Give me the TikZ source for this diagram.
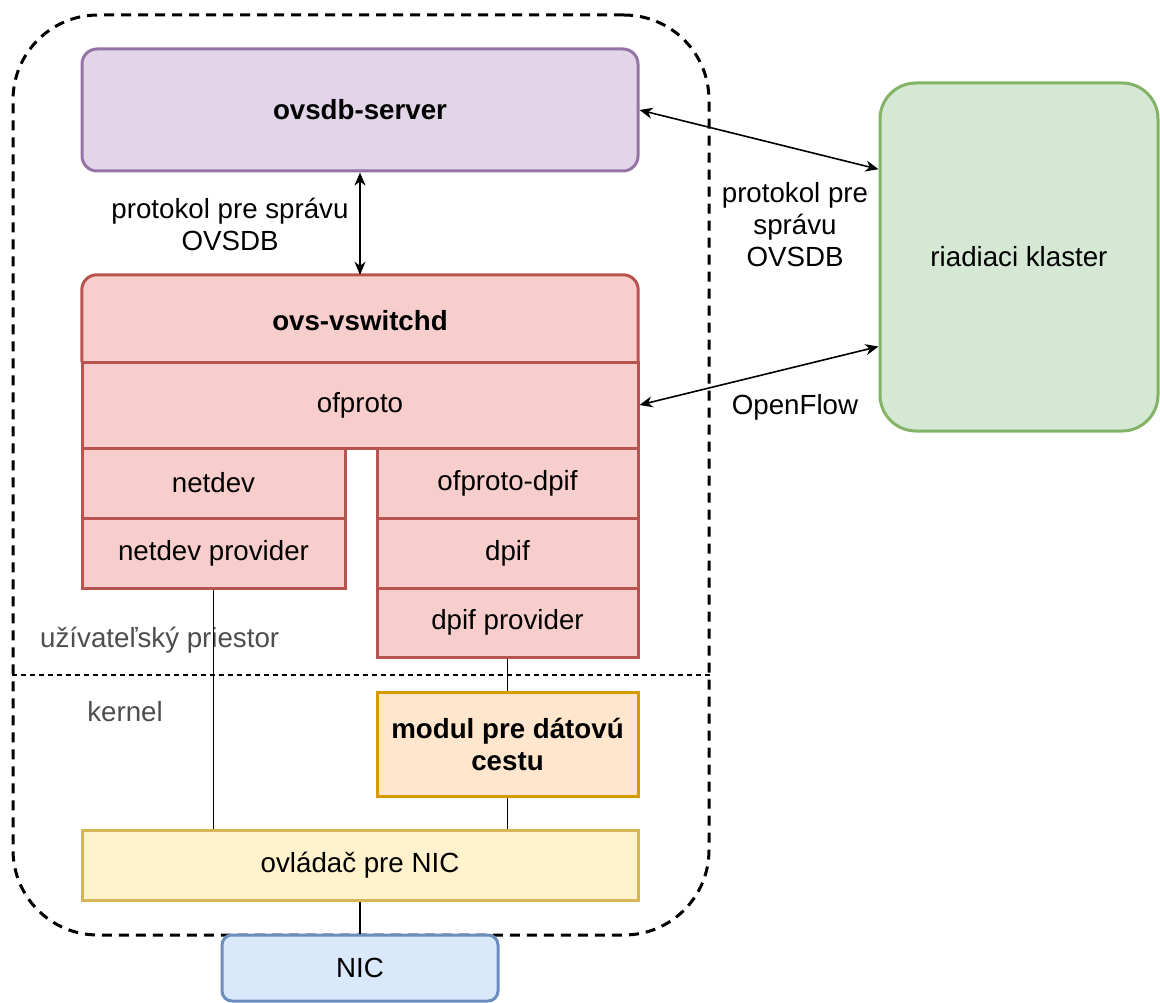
\documentclass[tikz,border=0pt]{standalone}
\usepackage{fontspec}
\setmainfont{Liberation Sans}
\usetikzlibrary{arrows.meta,calc}
\definecolor{pfill}{HTML}{E1D5E7}\definecolor{pdraw}{HTML}{9673A6}
\definecolor{rfill}{HTML}{F8CECC}\definecolor{rdraw}{HTML}{B85450}
\definecolor{ofill}{HTML}{FFE6CC}\definecolor{odraw}{HTML}{D79B00}
\definecolor{yfill}{HTML}{FFF2CC}\definecolor{ydraw}{HTML}{D6B656}
\definecolor{bfill}{HTML}{DAE8FC}\definecolor{bdraw}{HTML}{6C8EBF}
\definecolor{gfill}{HTML}{D5E8D4}\definecolor{gdraw}{HTML}{82B366}
\definecolor{lblgray}{HTML}{4D4D4D}
\newcommand{\dfont}{\fontsize{27.7}{32}\selectfont}
\begin{document}
\begin{tikzpicture}[x=1pt,y=1pt,
  every node/.style={font=\dfont, inner sep=0pt, align=center},
  box/.style={draw, line width=3pt, minimum width=#1, anchor=center},
  redbox/.style={box=#1, fill=rfill, draw=rdraw},
  lbl/.style={text=black},
  graylbl/.style={text=lblgray},
  conn/.style={line width=1.5pt},
  biarrow/.style={line width=1.6pt, {Stealth[length=13pt,width=11pt,inset=4pt]}-{Stealth[length=13pt,width=11pt,inset=4pt]}},
]
\useasboundingbox (0,0) rectangle (1160,-1003);
% container
\node[draw, line width=3pt, dash pattern=on 10pt off 7pt, rounded corners=85pt,
      minimum width=696pt, minimum height=920pt] (host) at (361,-475) {};
% ovsdb-server
\node[box=556pt, minimum height=122pt, fill=pfill, draw=pdraw, rounded corners=15pt, font=\dfont\bfseries] (ovsdb) at (360,-110) {ovsdb-server};
% ovs-vswitchd (top corners rounded)
\node[minimum width=556pt, minimum height=87pt] (vsw) at (360,-318.5) {};
\fill[rfill] (vsw.south west) -- ($(vsw.north west)+(0,-15)$) arc[start angle=180,end angle=90,radius=15]
   -- ($(vsw.north east)+(-15,0)$) arc[start angle=90,end angle=0,radius=15] -- (vsw.south east) -- cycle;
\draw[line width=3pt, rdraw] (vsw.south west) -- ($(vsw.north west)+(0,-15)$) arc[start angle=180,end angle=90,radius=15]
   -- ($(vsw.north east)+(-15,0)$) arc[start angle=90,end angle=0,radius=15] -- (vsw.south east);
\node[font=\dfont\bfseries] (vswlbl) at ([yshift=-2pt]vsw.center) {ovs-vswitchd};
\node[redbox=556pt, minimum height=86pt] (ofproto) at (360,-405) {ofproto};
\node[redbox=263pt, minimum height=70pt] (netdev) at (213.5,-483) {netdev};
\node[redbox=263pt, minimum height=70pt] (netdevp) at (213.5,-553) {netdev provider};
\node[redbox=261pt, minimum height=70pt] (ofdpif) at (507.5,-483) {ofproto-dpif};
\node[redbox=261pt, minimum height=70pt] (dpif) at (507.5,-553) {dpif};
\node[redbox=261pt, minimum height=69pt] (dpifp) at (507.5,-622.5) {dpif provider};
% kernel part
\node[box=261pt, minimum height=104pt, fill=ofill, draw=odraw, font=\dfont\bfseries] (modul) at (507.5,-744) {modul pre dátovú\\cestu};
\node[box=556pt, minimum height=70pt, fill=yfill, draw=ydraw] (nicdrv) at (360,-865) {ovládač pre NIC};
\node[box=276pt, minimum height=66pt, fill=bfill, draw=bdraw, rounded corners=10pt] (nic) at (360,-968) {NIC};
% cluster
\node[box=278pt, minimum height=348pt, fill=gfill, draw=gdraw, rounded corners=36pt] (klaster) at (1019,-257) {riadiaci klaster};
% user/kernel separator
\coordinate (sepL) at (host.west |- 0,-675);
\coordinate (sepR) at (host.east |- 0,-675);
\draw[line width=1.5pt, dash pattern=on 5pt off 4pt] (sepL) -- (sepR);
\node[graylbl, anchor=west] (userlbl) at (40,-640) {užívateľský priestor};
\node[graylbl] (kernlbl) at (125,-712) {kernel};
% connectors
\draw[conn] (netdevp.south) -- (netdevp.south |- nicdrv.north);
\draw[conn] (dpifp.south) -- (modul.north);
\draw[conn] (modul.south) -- (modul.south |- nicdrv.north);
\draw[conn] (nicdrv.south) -- (nic.north);
\draw[biarrow] (ovsdb.south) -- (vsw.north);
\coordinate (k1) at ($(klaster.north west)!0.25!(klaster.south west)$);
\coordinate (k2) at ($(klaster.north west)!0.755!(klaster.south west)$);
\draw[biarrow] (ovsdb.east) -- (k1);
\draw[biarrow] (ofproto.east) -- (k2);
% labels
\node[lbl] (l1) at (230,-224) {protokol pre správu\\OVSDB};
\node[lbl] (l2) at (795,-225) {protokol pre\\správu\\OVSDB};
\node[lbl] (l3) at (795,-407) {OpenFlow};
\end{tikzpicture}
\end{document}
